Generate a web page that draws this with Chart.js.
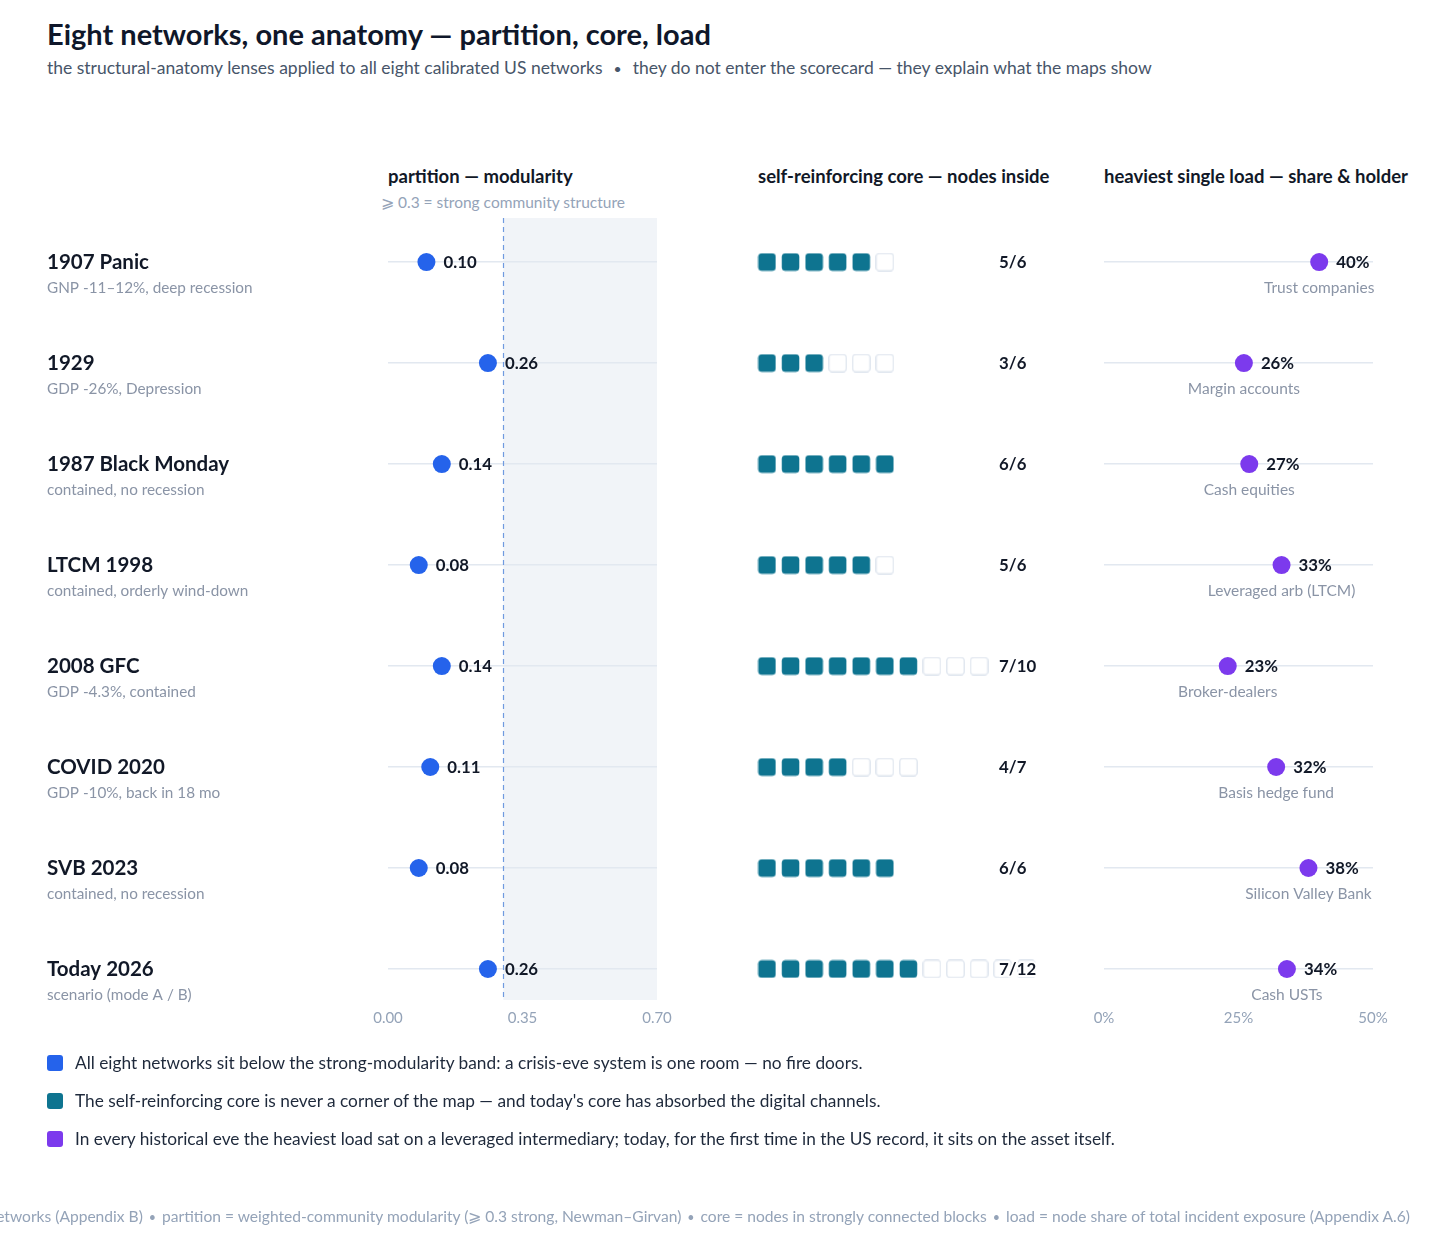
<!DOCTYPE html>
<html>
<head>
<meta charset="utf-8">
<script src="https://cdn.jsdelivr.net/npm/chart.js@4.4.1/dist/chart.umd.min.js"></script>
<style>
body{margin:0;width:1456px;height:1242px;overflow:hidden;background:#fff;font-family:Lato,sans-serif;position:relative}
.t{position:absolute;white-space:nowrap;line-height:1}
canvas{position:absolute;top:0}
.sq{position:absolute;left:47px;width:16px;height:16px;border-radius:3px}
.dot{font-size:0.8em;padding:0 6px}
.dot2{font-size:0.8em;padding:0 11px}
</style>
</head>
<body>
<div class="t" style="left:47px;top:19px;font-size:29px;font-weight:700;color:#0f172a">Eight networks, one anatomy — partition, core, load</div>
<div class="t" style="left:47px;top:58.5px;font-size:17.5px;color:#475569">the structural-anatomy lenses applied to all eight calibrated US networks<span class="dot2">•</span>they do not enter the scorecard — they explain what the maps show</div>

<div class="t" style="left:388px;top:167px;font-size:18.5px;font-weight:700;color:#111827">partition — modularity</div>
<div class="t" style="left:503px;top:194.5px;font-size:15.5px;color:#94a3b8;transform:translateX(-50%)">⩾ 0.3 = strong community structure</div>
<div class="t" style="left:758px;top:167px;font-size:18.5px;font-weight:700;color:#111827">self-reinforcing core — nodes inside</div>
<div class="t" style="left:1104px;top:167px;font-size:18.5px;font-weight:700;color:#111827">heaviest single load — share &amp; holder</div>

<canvas id="partition" width="700" height="1242" style="left:0"></canvas>
<canvas id="core" width="360" height="1242" style="left:700px"></canvas>
<canvas id="load" width="396" height="1242" style="left:1060px"></canvas>

<div class="sq" style="top:1055px;background:#2563eb"></div>
<div class="t" style="left:75px;top:1053.7px;font-size:17.3px;color:#1e293b">All eight networks sit below the strong-modularity band: a crisis-eve system is one room — no fire doors.</div>
<div class="sq" style="top:1093px;background:#0e7490"></div>
<div class="t" style="left:75px;top:1091.7px;font-size:17.3px;color:#1e293b">The self-reinforcing core is never a corner of the map — and today's core has absorbed the digital channels.</div>
<div class="sq" style="top:1131px;background:#7c3aed"></div>
<div class="t" style="left:75px;top:1129.7px;font-size:17.3px;color:#1e293b">In every historical eve the heaviest load sat on a leveraged intermediary; today, for the first time in the US record, it sits on the asset itself.</div>

<div class="t" style="right:46px;top:1209px;font-size:15.6px;color:#94a3b8">eight calibrated US networks (Appendix B)<span class="dot">•</span>partition = weighted-community modularity (⩾ 0.3 strong, Newman–Girvan)<span class="dot">•</span>core = nodes in strongly connected blocks<span class="dot">•</span>load = node share of total incident exposure (Appendix A.6)</div>

<script>
const rows = ["1907 Panic", "1929", "1987 Black Monday", "LTCM 1998", "2008 GFC", "COVID 2020", "SVB 2023", "Today 2026"]
const outcomes = ["GNP -11–12%, deep recession", "GDP -26%, Depression", "contained, no recession", "contained, orderly wind-down", "GDP -4.3%, contained", "GDP -10%, back in 18 mo", "contained, no recession", "scenario (mode A / B)"]
const modularity = [0.10, 0.26, 0.14, 0.08, 0.14, 0.11, 0.08, 0.26]
const coreInside = [5, 3, 6, 5, 7, 4, 6, 7]
const coreNodes = [6, 6, 6, 6, 10, 7, 6, 12]
const loadShare = [40, 26, 27, 33, 23, 32, 38, 34]
const loadHolder = ["Trust companies", "Margin accounts", "Cash equities", "Leveraged arb (LTCM)", "Broker-dealers", "Basis hedge fund", "Silicon Valley Bank", "Cash USTs"]
const modularityTicks = [0, 0.35, 0.70]
const loadTicks = [0, 25, 50]
const strongModularity = 0.3

const FONT = "Lato"
const BLUE = "#2563eb", TEAL = "#0e7490", PURPLE = "#7c3aed"
const GREY = "#8a94a6"

function rowScale(showLines){
    return {
        type: "linear", min: -0.436, max: 7.307, reverse: true, display: showLines,
        afterBuildTicks: s => { s.ticks = rows.map((r, i) => ({value: i})) },
        ticks: {display: false},
        border: {display: false},
        grid: {color: "#e2e8f0", lineWidth: 1.5, drawTicks: false}
    }
}

function bottomAxis(min, max, values, fmt){
    return {
        type: "linear", min: min, max: max,
        afterBuildTicks: s => { s.ticks = values.map(v => ({value: v})) },
        afterFit: s => { s.height = 30 },
        ticks: {color: "#94a3b8", font: {family: FONT, size: 15}, padding: 9, maxRotation: 0, callback: fmt},
        grid: {display: false, drawTicks: false},
        border: {display: false}
    }
}

function label(ctx, text, x, y, font, color, align){
    ctx.font = font
    ctx.fillStyle = color
    ctx.textAlign = align || "left"
    ctx.textBaseline = "middle"
    ctx.fillText(text, x, y)
}

// partition
new Chart(document.getElementById("partition"), {
    type: "scatter",
    data: {datasets: [{
        data: modularity.map((v, i) => ({x: v, y: i})),
        backgroundColor: BLUE, pointRadius: 9, pointHoverRadius: 9, borderWidth: 0
    }]},
    options: {
        animation: false, responsive: false, events: [],
        layout: {padding: {left: 388, right: 43, top: 218, bottom: 212}},
        plugins: {legend: {display: false}, tooltip: {enabled: false}},
        scales: {
            x: bottomAxis(0, 0.7, modularityTicks, v => v.toFixed(2)),
            y: rowScale(true)
        }
    },
    plugins: [{
        id: "band",
        beforeDraw(chart){
            const {ctx, chartArea, scales} = chart
            const x0 = scales.x.getPixelForValue(strongModularity)
            ctx.save()
            ctx.fillStyle = "#f1f4f8"
            ctx.fillRect(x0, chartArea.top, scales.x.getPixelForValue(0.7) - x0, chartArea.bottom - chartArea.top)
            ctx.restore()
        },
        beforeDatasetsDraw(chart){
            const {ctx, chartArea, scales} = chart
            const x0 = Math.round(scales.x.getPixelForValue(strongModularity)) + 0.5
            ctx.save()
            ctx.strokeStyle = "#6f9ae0"
            ctx.lineWidth = 1.2
            ctx.setLineDash([5, 4])
            ctx.beginPath()
            ctx.moveTo(x0, chartArea.top)
            ctx.lineTo(x0, chartArea.bottom)
            ctx.stroke()
            ctx.restore()
        },
        afterDatasetsDraw(chart){
            const ctx = chart.ctx
            const y = chart.scales.y
            ctx.save()
            chart.getDatasetMeta(0).data.forEach((pt, i) => {
                label(ctx, modularity[i].toFixed(2), pt.x + 17, pt.y + 1, "bold 16.8px " + FONT, "#111827")
            })
            rows.forEach((r, i) => {
                const py = y.getPixelForValue(i)
                label(ctx, r, 47, py, "bold 20.5px " + FONT, "#111827")
                label(ctx, outcomes[i], 47, py + 26, "15.3px " + FONT, GREY)
            })
            ctx.restore()
        }
    }]
})

// core
function nodeImage(fill, stroke){
    const c = document.createElement("canvas")
    c.width = 19; c.height = 19
    const g = c.getContext("2d")
    g.beginPath()
    g.roundRect(0.75, 0.75, 17.5, 17.5, 3.5)
    g.fillStyle = fill
    g.fill()
    if (stroke){ g.strokeStyle = stroke; g.lineWidth = 1.5; g.stroke() }
    return c
}
const coreLabelAt = 9.85
var filledNodes = [], emptyNodes = []
rows.forEach((r, i) => {
    for (var k = 0; k < coreNodes[i]; k++){
        (k < coreInside[i] ? filledNodes : emptyNodes).push({x: k, y: i})
    }
})
new Chart(document.getElementById("core"), {
    type: "scatter",
    data: {datasets: [
        {data: emptyNodes, pointStyle: nodeImage("#ffffff", "#e2e8f0"), pointRadius: 9},
        {data: filledNodes, pointStyle: nodeImage(TEAL), pointRadius: 9}
    ]},
    options: {
        animation: false, responsive: false, events: [],
        layout: {padding: {left: 55.2, right: 22, top: 218, bottom: 242}},
        plugins: {legend: {display: false}, tooltip: {enabled: false}},
        scales: {
            x: {type: "linear", min: -0.5, max: 11.5, display: false},
            y: rowScale(false)
        }
    },
    plugins: [{
        id: "counts",
        afterDatasetsDraw(chart){
            const ctx = chart.ctx
            const lx = chart.scales.x.getPixelForValue(coreLabelAt)
            ctx.save()
            rows.forEach((r, i) => {
                const py = chart.scales.y.getPixelForValue(i) + 1
                const txt = coreInside[i] + "/" + coreNodes[i]
                ctx.font = "bold 16.8px " + FONT
                ctx.strokeStyle = "#ffffff"
                ctx.lineWidth = 4
                ctx.lineJoin = "round"
                ctx.textAlign = "left"
                ctx.textBaseline = "middle"
                ctx.strokeText(txt, lx, py)
                label(ctx, txt, lx, py, "bold 16.8px " + FONT, "#111827")
            })
            ctx.restore()
        }
    }]
})

// load
new Chart(document.getElementById("load"), {
    type: "scatter",
    data: {datasets: [{
        data: loadShare.map((v, i) => ({x: v, y: i})),
        backgroundColor: PURPLE, pointRadius: 9, pointHoverRadius: 9, borderWidth: 0
    }]},
    options: {
        animation: false, responsive: false, events: [],
        layout: {padding: {left: 44, right: 83, top: 218, bottom: 212}},
        plugins: {legend: {display: false}, tooltip: {enabled: false}},
        scales: {
            x: bottomAxis(0, 50, loadTicks, v => v + "%"),
            y: rowScale(true)
        }
    },
    plugins: [{
        id: "holders",
        afterDatasetsDraw(chart){
            const ctx = chart.ctx
            ctx.save()
            chart.getDatasetMeta(0).data.forEach((pt, i) => {
                label(ctx, loadShare[i] + "%", pt.x + 17, pt.y + 1, "bold 16.8px " + FONT, "#111827")
                label(ctx, loadHolder[i], pt.x, pt.y + 26, "15.5px " + FONT, GREY, "center")
            })
            ctx.restore()
        }
    }]
})
</script>
</body>
</html>
